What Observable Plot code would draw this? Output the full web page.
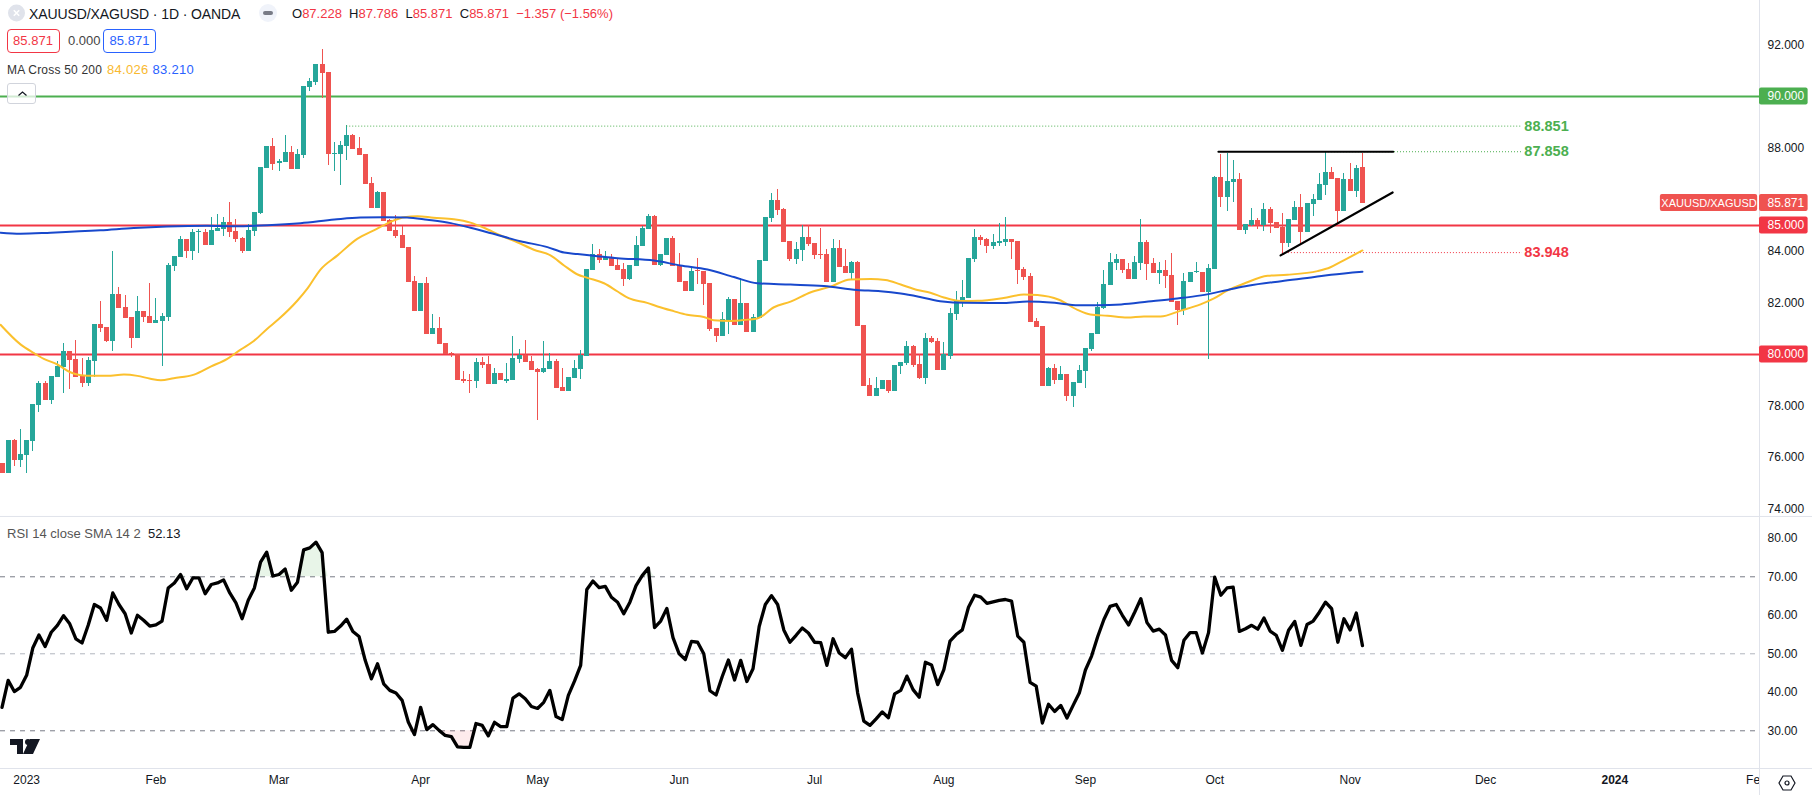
<!DOCTYPE html>
<html><head><meta charset="utf-8">
<script src="https://cdn.jsdelivr.net/npm/d3@7"></script>
<script src="https://cdn.jsdelivr.net/npm/@observablehq/plot@0.6"></script>
<style>
html,body{margin:0;padding:0;background:#fff;overflow:hidden}
#wrap{position:relative;width:1812px;height:795px;font-family:"Liberation Sans",Arial,sans-serif;color:#131722;overflow:hidden}
#wrap svg{display:block}
.ov{position:absolute;white-space:pre;line-height:16px;font-size:13px}
.box{position:absolute;box-sizing:border-box;border:1px solid;border-radius:4px;background:#fff;text-align:center;font-size:13px;line-height:22px;height:24px;width:53px}
</style></head><body><div id="wrap"></div>
<script>
const open=[75.77,75.39,76.67,75.89,76.09,76.63,78.02,78.88,78.22,79.11,
79.50,80.12,79.81,79.15,78.88,79.73,81.16,81.05,80.50,82.33,
81.82,81.43,80.62,81.67,81.47,81.20,81.28,81.43,83.41,83.76,
84.46,83.99,84.71,84.73,84.22,84.77,84.84,85.12,84.77,84.50,
83.99,84.77,85.46,87.21,88.06,87.39,87.44,87.83,87.17,87.71,
90.35,90.54,91.24,90.93,87.75,87.75,88.06,88.49,87.98,87.75,
86.63,85.66,86.28,85.19,84.81,84.61,84.15,82.83,81.67,82.75,
80.77,81.01,80.42,80.04,80.00,79.03,79.00,78.95,79.69,79.61,
78.84,79.26,78.97,78.99,79.80,79.96,79.73,79.42,79.30,79.42,
79.73,78.72,78.57,79.07,79.42,79.92,83.25,83.87,83.64,83.76,
83.45,83.29,82.91,83.41,84.18,84.84,85.35,83.45,83.84,84.49,
83.45,82.83,82.44,83.25,83.22,82.75,81.01,80.70,81.32,82.13,
81.12,81.97,80.85,81.39,83.60,85.27,85.97,85.62,84.38,83.68,
84.03,84.53,84.30,83.87,83.87,82.79,84.11,83.41,83.14,83.56,
81.12,78.80,78.37,78.64,78.99,78.57,79.53,79.65,80.31,79.61,
79.07,80.62,80.50,79.38,79.92,81.55,82.01,82.17,83.68,84.53,
84.46,84.18,84.30,84.34,84.46,84.38,83.29,83.02,81.28,81.08,
78.76,79.46,78.99,79.22,78.37,78.87,79.34,80.19,80.77,81.78,
82.67,83.53,83.68,83.29,82.91,83.53,84.34,83.53,83.14,83.25,
83.06,82.05,81.70,82.79,83.16,83.18,82.40,83.30,86.86,86.09,
86.67,86.78,84.81,85.00,85.19,85.00,85.62,85.12,84.92,84.30,
85.19,85.70,84.73,85.81,85.97,86.55,87.05,86.82,85.54,86.78,
86.32,87.23];
const close=[75.39,76.67,75.89,76.12,76.67,78.06,78.88,78.22,79.15,79.53,
80.12,79.77,79.11,78.88,79.77,81.16,81.01,80.50,82.33,81.78,
81.40,80.62,81.67,81.43,81.20,81.32,81.47,83.45,83.80,84.46,
83.99,84.73,84.76,84.22,84.81,84.88,85.12,84.73,84.46,83.99,
84.81,85.50,87.25,88.06,87.36,87.48,87.83,87.17,87.75,90.39,
90.58,91.24,90.89,87.75,87.80,88.10,88.49,87.94,87.71,86.59,
85.66,86.28,85.15,84.77,84.57,84.11,82.79,81.67,82.75,80.77,
81.01,80.39,80.00,80.00,78.99,78.95,78.95,79.69,79.57,78.84,
79.26,78.99,79.02,79.84,79.96,79.69,79.38,79.30,79.46,79.73,
78.68,78.57,79.11,79.46,79.96,83.29,83.87,83.64,83.76,83.41,
83.25,82.91,83.45,84.22,84.88,85.35,83.45,83.87,84.49,83.41,
82.79,82.44,83.22,83.20,82.71,80.97,80.70,81.35,82.13,81.12,
81.97,80.85,81.43,83.64,85.31,85.97,85.58,84.34,83.68,84.07,
84.53,84.26,83.84,83.83,82.79,84.11,83.37,83.14,83.56,81.08,
78.76,78.37,78.68,78.99,78.57,79.57,79.69,80.31,79.57,79.07,
80.62,80.46,79.38,80.00,81.59,82.05,82.21,83.72,84.53,84.42,
84.18,84.34,84.38,84.46,84.34,83.25,82.98,81.24,81.05,78.76,
79.46,78.99,79.22,78.37,78.91,79.38,80.23,80.81,81.82,82.71,
83.56,83.68,83.25,82.91,83.56,84.34,83.49,83.14,83.25,83.02,
82.01,81.70,82.83,83.18,83.21,82.40,83.33,86.86,86.09,86.71,
86.78,84.81,85.04,85.19,85.00,85.62,85.08,84.88,84.30,85.23,
85.70,84.73,85.85,86.01,86.59,87.05,86.78,85.54,86.78,86.32,
87.21,85.87];
const high=[75.77,76.67,76.71,77.09,76.67,78.06,78.95,78.95,79.15,79.73,
80.43,80.12,80.54,79.85,79.88,81.16,82.05,81.05,83.99,82.60,
82.29,81.43,82.25,81.67,82.75,82.17,81.59,83.53,83.80,84.57,
84.46,84.84,84.84,84.85,85.31,85.43,85.31,85.89,85.23,84.53,
85.04,85.50,87.25,88.06,88.37,87.56,88.49,88.06,87.94,90.39,
90.70,91.24,91.82,90.93,88.22,88.25,88.88,88.53,88.41,87.75,
86.86,86.32,86.28,85.23,85.39,84.96,84.15,83.02,82.75,82.98,
81.55,81.43,80.42,80.08,80.00,79.34,79.22,79.84,79.88,79.92,
79.46,79.26,79.65,80.70,80.19,80.54,79.92,79.46,80.50,80.04,
79.80,79.46,79.11,79.77,80.15,83.29,84.26,84.07,83.99,83.87,
83.68,83.53,83.45,84.57,84.96,85.42,85.39,83.87,84.49,84.57,
83.91,82.83,83.37,83.72,83.22,82.75,81.01,81.63,82.21,82.13,
82.94,81.97,81.55,83.64,85.31,86.24,86.39,85.66,84.38,84.34,
85.00,85.00,84.30,84.88,84.07,84.46,84.42,84.07,83.60,83.60,
81.12,79.07,79.11,78.99,78.99,79.57,79.69,80.50,80.35,80.00,
80.81,80.70,80.62,80.46,81.78,82.44,82.87,83.72,84.84,84.61,
84.49,84.65,85.08,85.31,84.46,84.38,83.37,83.14,81.39,81.08,
79.49,79.61,79.53,79.22,78.91,79.57,80.23,80.81,82.01,83.25,
83.91,83.87,83.68,83.53,83.79,85.23,84.42,83.72,83.56,83.64,
83.91,82.05,83.14,83.18,83.56,83.18,83.49,86.90,87.75,87.79,
87.52,87.02,85.04,85.66,85.27,85.85,85.70,85.12,85.46,85.23,
85.93,86.20,85.85,86.20,87.02,87.87,87.25,86.82,87.02,87.40,
87.33,87.79];
const low=[75.39,75.39,75.66,75.62,75.39,76.24,77.75,78.22,78.06,79.11,
78.49,78.64,79.11,78.72,78.76,79.11,80.85,80.47,80.12,81.78,
81.40,80.23,80.62,81.24,81.20,81.20,79.53,81.28,83.22,83.76,
83.72,83.64,83.91,84.22,84.22,84.75,84.57,84.53,84.34,83.91,
83.99,84.57,85.42,87.21,87.13,87.09,87.44,87.17,87.17,87.60,
90.19,90.43,89.92,87.32,87.09,86.55,87.52,87.94,87.71,86.59,
85.66,85.66,85.15,84.77,84.50,84.11,82.79,81.67,81.67,80.77,
80.77,80.39,80.00,79.88,78.99,78.87,78.49,78.68,79.46,78.84,
78.84,78.99,78.87,78.99,79.65,79.69,79.38,77.44,79.26,79.42,
78.68,78.57,78.57,79.07,79.03,79.92,83.25,83.53,83.64,83.41,
83.25,82.63,82.87,83.41,84.18,84.84,83.45,83.41,83.84,83.41,
82.79,82.44,82.44,82.71,81.90,80.89,80.46,80.70,80.77,81.12,
81.12,80.85,80.85,81.39,83.60,85.11,85.39,84.34,83.60,83.49,
83.60,84.18,83.68,83.68,82.79,82.79,83.37,83.14,82.87,81.08,
78.76,78.37,78.37,78.64,78.49,78.57,79.22,79.57,79.49,79.03,
78.84,80.42,79.38,79.38,79.80,81.32,81.82,82.17,83.56,84.22,
83.91,84.07,84.18,84.18,83.68,82.71,82.87,81.24,81.05,78.76,
78.76,78.84,78.99,78.18,77.94,78.87,78.68,80.12,80.77,81.74,
82.67,83.25,83.14,82.91,82.91,83.25,82.87,83.14,82.71,82.56,
82.01,81.12,81.51,82.79,83.14,82.40,79.80,83.30,85.70,85.54,
85.89,84.81,84.65,84.97,84.85,84.77,84.69,84.88,83.84,84.15,
85.19,84.26,84.73,85.35,85.97,86.16,86.78,85.04,85.54,86.32,
86.08,85.87];
const rsi=[36.1,43.1,40.2,41.3,44.4,51.5,54.9,51.9,55.6,57.4,
59.9,57.8,53.9,52.8,57.4,62.8,61.9,58.7,65.8,62.8,
60.4,55.4,60,58.7,57.2,57.5,58.5,67.1,68.4,70.6,
66.9,69.7,69.7,65.6,68,68.4,69.2,65.8,63.2,59.1,
63.9,67.1,73.8,76.4,70.2,70.6,72,66.5,68.6,77,
77.5,79,76.3,55.6,55.8,57.2,59,55.8,54.5,48.3,
43.5,47.4,42.2,40.5,39.8,37.9,32.3,29,36.1,30.3,
31.6,30.1,28.8,28.5,25.8,25.7,25.7,31.9,31.4,28.7,
32.2,31.1,31.1,38.5,39.6,38.3,36.3,35.8,37.4,40.5,
33.7,32.9,39.2,42.9,47,66.7,68.9,67.2,67.5,64.7,
63.4,60.4,63.4,67.7,70.3,72.3,56.8,58.5,61.8,54.2,
50,48.5,53.2,53,50,40.4,39.3,44.1,48.4,43.2,
48.3,42.8,46.1,57.1,62.8,65.1,62.8,56.2,53,54.8,
56.7,55.4,53,52.9,47,53.9,50.2,49,51.2,39.8,
32.5,31.4,33.1,34.9,33.4,39.6,40.5,44.2,40.7,38.7,
47.8,47.1,42,45.9,53.3,55,56.2,62.1,65.2,64.7,
63.1,63.5,63.9,64.1,63.7,54.6,53,42.6,41.6,32,
36.9,35,36.6,33.3,36.6,39.8,45.8,49.4,54.5,58.9,
62.3,62.8,60,57.5,60.8,64.3,58.1,55.9,56.4,54.9,
48.3,46.4,53.5,55.5,55.5,50.2,55.5,69.9,65.2,67.1,
67.3,55.8,56.5,57.4,56.4,59.3,55.9,54.8,50.9,56.1,
58.4,52.2,57.6,58.5,60.8,63.4,61.7,53,59.1,56.2,
60.6,52.13];
const ma50Bar=[-0.24,3,5.2,6.8,9,11.1,12.8,14.9,17.1,19.8,22,24.1,25.8,27.9,31.2,33.9,36.6,38.7,40.9,43.1,45,48,49.6,51.7,54.5,57.7,60.4,63.6,65.3,67.5,70.1,73.4,76.1,78.3,81,83.7,86.4,89.1,91.3,93.5,95.1,97.8,100,101.8,104.8,106.5,109.1,111.3,114,115.6,118.4,121.1,122.7,125.4,128.1,131.4,134.6,137.8,141.1,143.5,146,148.7,150.8,153,155.7,158.5,162.7,166,168.2,171.7,174.7,176.8,179.6,182.8,185.5,188.2,191.5,194.7,196.8,199.1,201.7,205.6,208.8,213.7,215.8,217.4,221];
const ma50Val=[81.15,80.39,80.05,79.83,79.61,79.31,79.19,79.17,79.17,79.22,79.17,79.06,79.00,79.08,79.22,79.53,79.83,80.18,80.52,81.00,81.38,82.09,82.55,83.28,83.84,84.48,84.81,85.19,85.32,85.36,85.30,85.24,85.11,84.91,84.61,84.35,84.06,83.84,83.45,83.10,82.97,82.76,82.44,82.18,82.00,81.86,81.68,81.54,81.45,81.33,81.30,81.35,81.39,81.83,82.05,82.41,82.63,82.91,82.92,82.89,82.71,82.50,82.39,82.21,82.07,82.08,82.19,82.32,82.30,82.12,81.73,81.55,81.50,81.43,81.47,81.47,81.70,81.94,82.16,82.48,82.74,83.05,83.09,83.23,83.38,83.58,84.03];
const ma200Bar=[-0.24,3,7.9,16,21.4,26.8,33.3,37.7,43.1,48.5,54,58.2,62,65.8,69.1,72.9,76.1,79.3,84.2,88.6,91.3,93.5,96.7,100,105.9,110.2,114.6,118.9,122.7,128.1,133.5,138.9,142.7,146,149.3,152.8,156.3,162.8,166.6,171,174.8,178,181.8,186.2,190.5,194.8,199.1,202.4,207.8,213.2,215.9,221];
const ma200Val=[84.72,84.68,84.72,84.81,84.90,84.96,84.99,84.97,85.01,85.09,85.23,85.31,85.32,85.31,85.22,85.09,84.91,84.71,84.39,84.16,83.95,83.89,83.81,83.73,83.64,83.45,83.29,83.00,82.76,82.71,82.65,82.50,82.45,82.36,82.22,82.05,82.00,81.99,82.05,82.00,81.91,81.91,81.94,82.05,82.16,82.29,82.50,82.66,82.84,83.00,83.09,83.21];
const levelValues=[88.851,87.858,83.948];
const levelStart=[56,215,208];
const levelColors=["#4caf50","#4caf50","#f23645"];
const levelLabels=["88.851","87.858","83.948"];
const resistBar=[197.6,226], resistVal=[87.858,87.858];
const supportBar=[207.7,225.9], supportVal=[83.84,86.28];
const hLineValues=[90,85,80];
const hLineColors=["#4caf50","#f23645","#f23645"];
const priceTicks=[92,88,84,82,78,76,74];
const tagValues=[90,85.871,85,80];
const tagLabels=["90.000","85.871","85.000","80.000"];
const tagColors=["#4caf50","#ef5350","#f23645","#f23645"];
const rsiTicks=[80,70,60,50,40,30];
const monthBars=[4,25,45,68,87,110,132,153,176,197,219,241,285];
const monthLabels=["2023","Feb","Mar","Apr","May","Jun","Jul","Aug","Sep","Oct","Nov","Dec","Feb"];
const yearBars=[262];
const yearLabels=["2024"];

const UP="#26a69a",DOWN="#ef5350",GRID="#e0e3eb",FONT='"Liberation Sans",Arial,sans-serif';
const xMin=-0.244,xAxis=285.5,xEnd=294.2,tagEnd=293.4,levelEnd=247,labelBar=247.3;
const bars=open.map((o,i)=>({i,o,c:close[i],h:high[i],l:low[i],col:close[i]>=o?UP:DOWN}));
const rows=(a,b)=>a.map((x,k)=>({x,y:b[k]}));
const levels=levelValues.map((v,k)=>({v,s:levelStart[k],col:levelColors[k],t:levelLabels[k]}));
const tags=tagValues.map((v,k)=>({v,t:tagLabels[k],col:tagColors[k]}));
const hLines=hLineValues.map((v,k)=>({v,col:hLineColors[k]}));
const yTop=93.72,yBot=73.68;

const price=Plot.plot({width:1812,height:517,marginLeft:0,marginRight:53,marginTop:0,marginBottom:0,
 style:{fontFamily:FONT,background:"#fff",overflow:"visible"},
 x:{domain:[xMin,xAxis],axis:null},y:{domain:[yBot,yTop],axis:null},
 marks:[
  Plot.ruleY(hLines,{y:"v",x1:xMin,x2:xAxis,stroke:"col",strokeWidth:2}),
  Plot.ruleX(bars,{x:"i",y1:"l",y2:"h",stroke:"col",strokeWidth:1,shapeRendering:"crispEdges"}),
  Plot.ruleX(bars,{x:"i",y1:"o",y2:"c",stroke:"col",strokeWidth:5,shapeRendering:"crispEdges"}),
  Plot.ruleY(levels,{y:"v",x1:"s",x2:levelEnd,stroke:"col",strokeWidth:1,strokeDasharray:"1 2"}),
  Plot.line(rows(ma50Bar,ma50Val),{x:"x",y:"y",stroke:"#fbc02d",strokeWidth:2,curve:"monotone-x"}),
  Plot.line(rows(ma200Bar,ma200Val),{x:"x",y:"y",stroke:"#1848cc",strokeWidth:2,curve:"monotone-x"}),
  Plot.line(rows(resistBar,resistVal),{x:"x",y:"y",stroke:"#000",strokeWidth:2}),
  Plot.line(rows(supportBar,supportVal),{x:"x",y:"y",stroke:"#000",strokeWidth:2.2}),
  Plot.text(levels,{x:labelBar,y:"v",text:"t",fill:"col",fontWeight:"bold",fontSize:14.5,textAnchor:"start",style:"letter-spacing:.3px"}),
  Plot.ruleX([xAxis],{y1:yBot,y2:yTop,stroke:GRID}),
  Plot.ruleY([yBot+0.04],{x1:xMin,x2:xEnd,stroke:GRID}),
  Plot.axisY({anchor:"right",ticks:priceTicks,tickFormat:d=>d.toFixed(3),tickSize:0,tickPadding:8,fontSize:12,label:null,color:"#131722"}),
  Plot.rect(tags,{x1:xAxis,x2:tagEnd,y1:d=>d.v-0.33,y2:d=>d.v+0.33,fill:"col",rx:2}),
  Plot.text(tags,{x:xAxis,dx:8,y:"v",text:"t",fill:"#fff",fontSize:12,textAnchor:"start",fontWeight:500}),
  Plot.rect(["XAUUSD/XAGUSD"],{x1:269.4,x2:285.2,y1:85.871-0.33,y2:85.871+0.33,fill:"#ef5350",rx:2}),
  Plot.text(["XAUUSD/XAGUSD"],{x:277.3,y:85.871,text:d=>d,fill:"#fff",fontSize:11,fontWeight:500})
 ]});

const rTop=85.4,rBot=85.4-251/3.85,rEnd=rBot-27/3.85;
const rsiRows=rsi.map((v,i)=>({i,v}));
const rsi2=Plot.plot({width:1812,height:278,marginLeft:0,marginRight:53,marginTop:0,marginBottom:27,
 style:{fontFamily:FONT,background:"#fff",overflow:"visible"},
 x:{domain:[xMin,xAxis],axis:null},y:{domain:[rBot,rTop],axis:null},
 marks:[
  Plot.ruleY([70,30],{x1:xMin,x2:xAxis,stroke:"#787b86",strokeDasharray:"5 5",strokeWidth:1}),
  Plot.ruleY([50],{x1:xMin,x2:xAxis,stroke:"#b2b5be",strokeDasharray:"5 5",strokeWidth:1}),
  Plot.areaY(rsiRows,{x:"i",y1:70,y2:d=>Math.max(d.v,70),fill:"#4caf50",fillOpacity:.13}),
  Plot.areaY(rsiRows,{x:"i",y1:30,y2:d=>Math.min(d.v,30),fill:"#f23645",fillOpacity:.1}),
  Plot.line(rsiRows,{x:"i",y:"v",stroke:"#000",strokeWidth:3.3,strokeLinejoin:"round"}),
  Plot.axisY({anchor:"right",ticks:rsiTicks,tickFormat:d=>d.toFixed(2),tickSize:0,tickPadding:8,fontSize:12,label:null,color:"#131722"}),
  Plot.axisX({anchor:"bottom",ticks:monthBars,tickFormat:d=>monthLabels[monthBars.indexOf(d)],tickSize:0,tickPadding:7,fontSize:12,label:null,color:"#131722"}),
  Plot.axisX({anchor:"bottom",ticks:yearBars,tickFormat:d=>yearLabels[yearBars.indexOf(d)],tickSize:0,tickPadding:7,fontSize:12,label:null,color:"#131722",fontWeight:"bold"}),
  Plot.rect([0],{x1:xAxis,x2:xEnd,y1:rEnd,y2:rBot,fill:"#fff"}),
  Plot.ruleX([xAxis],{y1:rEnd,y2:rTop,stroke:GRID}),
  Plot.ruleY([rBot],{x1:xMin,x2:xEnd,stroke:GRID})
 ]});

const wrap=document.getElementById("wrap");
wrap.append(price,rsi2);
function ov(html,left,top,cls="ov",extra=""){const d=document.createElement("div");d.className=cls;d.style.cssText+=`left:${left}px;top:${top}px;${extra}`;d.innerHTML=html;wrap.append(d);}
const R="#f23645",B="#2962ff";
// header
ov(`<svg width="20" height="20"><circle cx="9.5" cy="10" r="8.5" fill="#e0e3eb"/><path d="M6.8 7.3l5.4 5.4M12.2 7.3l-5.4 5.4" stroke="#fff" stroke-width="1.6"/></svg>`,6.5,3,"ov");
ov(`XAUUSD/XAGUSD · 1D · OANDA`,29,5.5,"ov","font-size:14px;letter-spacing:-.1px");
ov(`<svg width="20" height="20"><circle cx="10" cy="10" r="9" fill="#f0f3fa"/><rect x="5" y="8" width="10" height="4" rx="2" fill="#787b86"/></svg>`,258,3,"ov");
ov(`O<span style="color:${R}">87.228</span>  H<span style="color:${R}">87.786</span>  L<span style="color:${R}">85.871</span>  C<span style="color:${R}">85.871</span>  <span style="color:${R}">−1.357 (−1.56%)</span>`,292,5.5,"ov","font-size:13px");
ov(`85.871`,6.5,29,"box",`border-color:${R};color:${R}`);
ov(`0.000`,68,33,"ov","color:#444;");
ov(`85.871`,103,29,"box",`border-color:${B};color:${B}`);
ov(`MA Cross 50 200`,7,62,"ov","color:#333;font-size:12px;letter-spacing:.2px");
ov(`84.026`,107,62,"ov","color:#f9b92f;letter-spacing:.3px");
ov(`83.210`,152.5,62,"ov",`color:#2962ff;letter-spacing:.3px`);
ov(`<svg width="29" height="20"><path d="M10.5 11.5l4-3.5 4 3.5" fill="none" stroke="#131722" stroke-width="1.2"/></svg>`,7,83,"ov","box-sizing:border-box;width:29px;height:21px;border:1px solid #d1d4dc;border-radius:3px;background:rgba(255,255,255,.75);");
ov(`RSI 14 close SMA 14 2  <span style="color:#131722">52.13</span>`,7,526,"ov","color:#555;font-size:13px");
// TradingView mark
ov(`<svg width="30" height="16" viewBox="0 0 30 16"><path d="M0 0h13v15H7V6H0z M20 0h10l-7 15H13z" fill="#131722"/><circle cx="18" cy="3" r="3" fill="#131722"/></svg>`,10,739,"ov");
ov(`<svg width="20" height="18"><path d="M6 2h8l4 7-4 7H6L2 9z" fill="none" stroke="#131722" stroke-width="1.2"/><circle cx="10" cy="9" r="2" fill="none" stroke="#131722" stroke-width="1.2"/></svg>`,1777,774,"ov");
</script></body></html>
